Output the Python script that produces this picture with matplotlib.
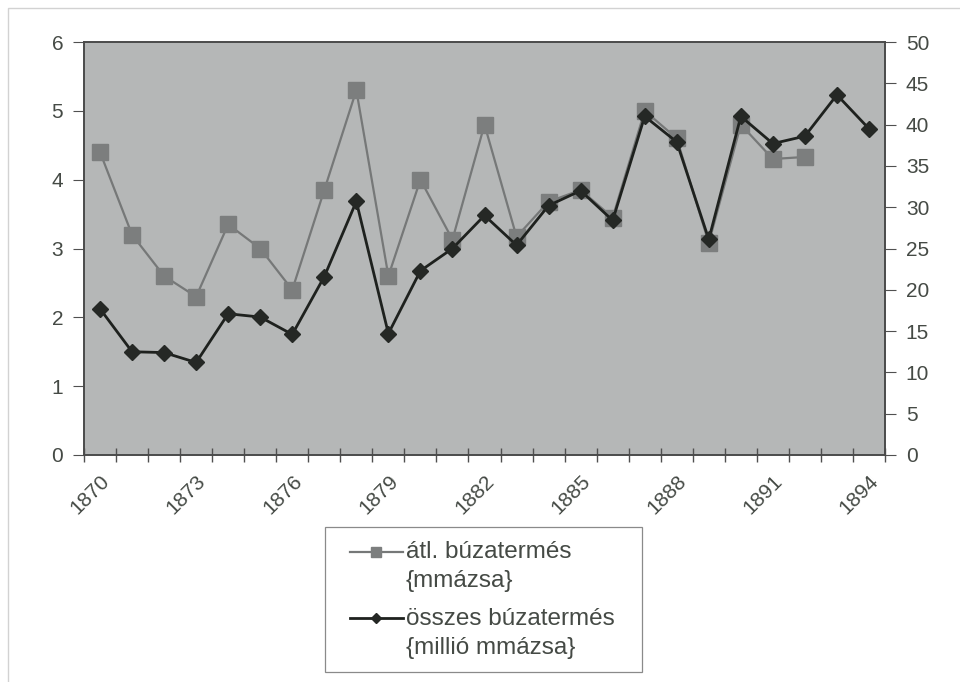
import matplotlib
matplotlib.use('Agg')
import matplotlib.pyplot as plt
import matplotlib.transforms as mtransforms
from matplotlib.legend_handler import HandlerLine2D
from matplotlib.patches import Rectangle

years = list(range(1870, 1895))
# average wheat yield (mmázsa), left axis; no data for 1893-1894
avg_yield = [4.4, 3.2, 2.6, 2.3, 3.35, 3.0, 2.4, 3.85, 5.3, 2.6,
             4.0, 3.13, 4.8, 3.17, 3.68, 3.85, 3.45, 5.0, 4.6, 3.08,
             4.8, 4.3, 4.33]
# total wheat yield (million mmázsa), right axis
total_yield = [17.7, 12.5, 12.4, 11.2, 17.1, 16.7, 14.6, 21.6, 30.7, 14.7,
               22.3, 25.0, 29.0, 25.4, 30.2, 32.0, 28.4, 41.0, 37.9, 26.1,
               41.0, 37.7, 38.6, 43.6, 39.5]
label_years = list(range(1870, 1895, 3))

text_c = '#454a45'
plt.rcParams['font.family'] = ['Liberation Sans', 'DejaVu Sans']


class FirstLineHandler(HandlerLine2D):
    # put the legend line next to the first line of a two-line label
    def create_artists(self, legend, orig_handle, xdescent, ydescent,
                       width, height, fontsize, trans):
        arts = super().create_artists(legend, orig_handle, xdescent,
                                      ydescent, width, height, fontsize,
                                      trans)
        shift = mtransforms.Affine2D().translate(0, 0.62 * fontsize)
        for a in arts:
            a.set_transform(shift + trans)
        return arts


fig = plt.figure(figsize=(9.6, 6.82), dpi=100)
# faint outer chart frame and the legend box
fig.patches.append(Rectangle((8 / 960, -0.1), 1.2, 1 - 8 / 682 + 0.1,
                             transform=fig.transFigure, fill=False,
                             ec='#d2d2d2', lw=1.0))
fig.patches.append(Rectangle((325 / 960, 1 - 672 / 682), 317 / 960,
                             145 / 682, transform=fig.transFigure,
                             fill=False, ec='#8a8a8a', lw=0.9))
ax = fig.add_axes([84 / 960, 1 - 455 / 682, 801 / 960, 413 / 682])
ax.set_facecolor('#b5b7b7')
ax2 = ax.twinx()

xs = [y - 1870 + 0.5 for y in years]
l1, = ax.plot(xs[:len(avg_yield)], avg_yield, color='#767878', lw=1.6,
              marker='s', ms=11, mfc='#7c7e7e', mec='#7c7e7e', zorder=3)
l2, = ax2.plot(xs, total_yield, color='#1e211e', lw=2.0,
               marker='D', ms=8, mfc='#252825', mec='#252825', zorder=4)

ax.set_xlim(0, 25)
ax.set_ylim(0, 6)
ax2.set_ylim(0, 50)
ax.set_yticks(range(0, 7))
ax2.set_yticks(range(0, 51, 5))
ax.set_xticks(range(0, 26))
ax.set_xticklabels([])
ax.set_xticks([y - 1870 + 0.5 for y in label_years], minor=True)
ax.set_xticklabels([str(y) for y in label_years], minor=True,
                   rotation=45, ha='right', va='top', rotation_mode='anchor')
ax.tick_params(axis='x', which='minor', length=0, pad=12,
               labelsize=15, labelcolor=text_c)
ax.tick_params(axis='x', which='major', direction='inout', length=10,
               color='#505050', width=1)
ax.tick_params(axis='y', direction='out', length=8, color='#505050',
               labelsize=15, labelcolor=text_c, pad=7)
ax2.tick_params(axis='y', direction='out', length=8, color='#505050',
                labelsize=15, labelcolor=text_c, pad=7)
for a in (ax, ax2):
    for s in a.spines.values():
        s.set_color('#4a4a4a')
        s.set_linewidth(1.2)

leg = fig.legend([l1, l2],
                 ['átl. búzatermés\n{mmázsa}',
                  'összes búzatermés\n{millió mmázsa}'],
                 loc='center', bbox_to_anchor=(482 / 960, 1 - 600 / 682),
                 fontsize=17.5, frameon=False,
                 handler_map={l1: FirstLineHandler(),
                              l2: FirstLineHandler()},
                 handlelength=2.2, handletextpad=0.1, labelspacing=0.65,
                 borderpad=0.5, borderaxespad=0, markerscale=0.7)
for t in leg.get_texts():
    t.set_color(text_c)
    t.set_linespacing(1.4)

fig.savefig('out.png', dpi=100, facecolor='white')
